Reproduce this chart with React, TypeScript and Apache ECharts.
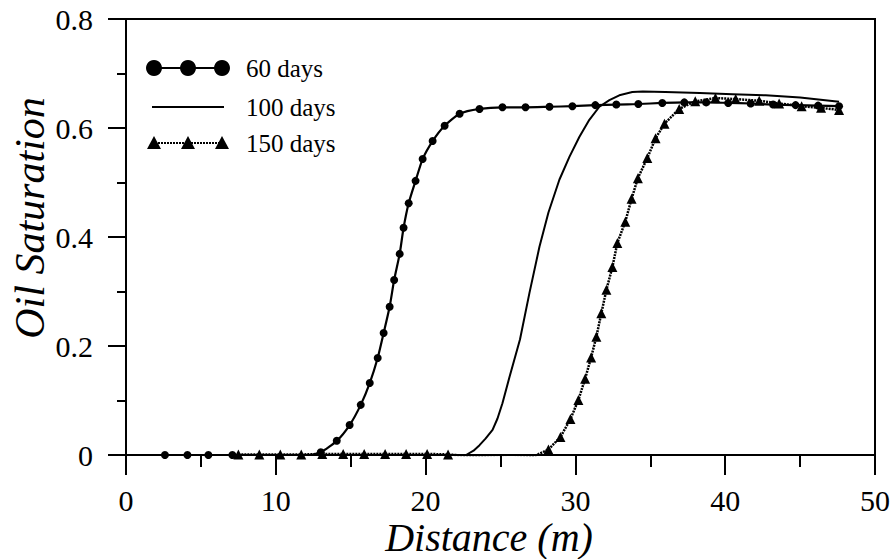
import React, { useEffect, useRef } from "react";
import * as echarts from "echarts";

const FONT = "'Liberation Serif', 'Times New Roman', serif";

const seriesNames = ["60 days", "100 days", "150 days"];

const x60 = [2.6, 4.1, 5.5, 7.1, 8.6, 10.1, 11.7, 13.0, 14.07, 14.93, 15.67, 16.27, 16.8, 17.2, 17.6, 17.9, 18.27, 18.53, 18.87, 19.33, 19.8, 20.47, 21.27, 22.27, 23.6, 25.13, 26.67, 28.27, 29.8, 31.33, 32.73, 34.2, 35.8, 37.27, 38.73, 40.2, 41.7, 43.2, 44.7, 46.2, 47.6];
const y60 = [0.0, 0.0, 0.0, 0.0, -0.002, -0.003, -0.003, 0.005, 0.026, 0.055, 0.092, 0.132, 0.178, 0.224, 0.272, 0.321, 0.369, 0.417, 0.462, 0.503, 0.543, 0.576, 0.604, 0.626, 0.635, 0.638, 0.638, 0.639, 0.64, 0.642, 0.643, 0.644, 0.646, 0.647, 0.647, 0.646, 0.645, 0.643, 0.642, 0.641, 0.64];

const x100 = [2.5, 10, 15, 20, 22.0, 22.7, 23.2, 23.6, 24.0, 24.47, 24.8, 25.13, 25.6, 26.3, 26.93, 27.6, 28.2, 28.93, 29.6, 30.27, 30.93, 31.6, 32.27, 32.93, 33.8, 34.5, 36.0, 38.3, 40.5, 42.7, 45.0, 47.6];
const y100 = [0.0, 0.0, 0.0, -0.002, -0.003, 0.0, 0.008, 0.018, 0.03, 0.046, 0.067, 0.095, 0.143, 0.212, 0.297, 0.382, 0.445, 0.505, 0.547, 0.584, 0.615, 0.639, 0.651, 0.66, 0.666, 0.667, 0.666, 0.664, 0.662, 0.66, 0.656, 0.648];

const x150 = [7.5, 8.9, 10.3, 11.7, 13.1, 14.5, 15.9, 17.3, 18.7, 20.1, 21.5, 22.9, 24.3, 25.8, 27.1, 28.2, 29.0, 29.67, 30.2, 30.65, 31.05, 31.4, 31.73, 32.07, 32.47, 32.8, 33.33, 33.75, 34.17, 34.8, 35.35, 35.95, 36.93, 38.0, 39.35, 40.7, 42.27, 43.6, 45.1, 46.4, 47.6];
const y150 = [0.001, 0.001, 0.001, 0.001, 0.002, 0.002, 0.002, 0.002, 0.002, 0.002, 0.001, -0.002, -0.005, -0.006, -0.004, 0.01, 0.033, 0.066, 0.101, 0.14, 0.179, 0.217, 0.26, 0.303, 0.345, 0.389, 0.428, 0.47, 0.508, 0.545, 0.581, 0.608, 0.635, 0.649, 0.655, 0.653, 0.65, 0.645, 0.64, 0.637, 0.633];

const xTicks = { min: 0, max: 50, interval: 10 };
const yTicks = { min: 0, max: 0.8, interval: 0.2 };

const pairs = (xs: number[], ys: number[]) => xs.map((x, i) => [x, ys[i]]);

export default function App() {
  const ref = useRef<HTMLDivElement>(null);
  useEffect(() => {
    if (!ref.current) return;
    const chart = echarts.init(ref.current, null, { renderer: "svg" });
    const black = "#000";
    const axisCommon = {
      axisLine: { show: true, lineStyle: { color: black, width: 2 } },
      splitLine: { show: false },
    };
    const legendRows = [
      { y: 68, kind: "circle" },
      { y: 107, kind: "line" },
      { y: 143, kind: "triangle" },
    ];
    const legendGraphics: any[] = [];
    legendRows.forEach((r, i) => {
      legendGraphics.push({
        type: "line",
        shape: { x1: 152, y1: r.y, x2: 224, y2: r.y },
        style: {
          stroke: black,
          lineWidth: 2,
          lineDash: r.kind === "triangle" ? [2, 1] : null,
        },
      });
      [154, 188, 222].forEach((cx) => {
        if (r.kind === "circle") {
          legendGraphics.push({ type: "circle", shape: { cx, cy: r.y, r: 8 }, style: { fill: black } });
        } else if (r.kind === "triangle") {
          legendGraphics.push({
            type: "polygon",
            shape: { points: [[cx - 7, r.y + 6], [cx + 7, r.y + 6], [cx, r.y - 7]] },
            style: { fill: black },
          });
        }
      });
      legendGraphics.push({
        type: "text",
        x: 246,
        y: r.y,
        style: {
          text: seriesNames[i],
          font: `25px ${FONT}`,
          fill: black,
          align: "left",
          verticalAlign: "middle",
        },
      });
    });

    chart.setOption({
      animation: false,
      backgroundColor: "#fff",
      grid: { left: 126, right: 16, top: 19, bottom: 104, show: true, borderColor: black, borderWidth: 2 },
      xAxis: {
        type: "value",
        ...xTicks,
        ...axisCommon,
        axisTick: { show: true, length: 20, lineStyle: { color: black, width: 2 } },
        minorTick: { show: true, splitNumber: 2, length: 12, lineStyle: { color: black, width: 2 } },
        axisLabel: { fontSize: 30, lineHeight: 30, fontFamily: FONT, color: black, margin: 30 },
      },
      yAxis: {
        type: "value",
        ...yTicks,
        ...axisCommon,
        axisTick: { show: true, length: 18, lineStyle: { color: black, width: 2 } },
        minorTick: { show: true, splitNumber: 2, length: 9, lineStyle: { color: black, width: 2 } },
        axisLabel: {
          fontSize: 30,
          fontFamily: FONT,
          color: black,
          margin: 33,
          formatter: (v: number) => (v === 0 ? "0" : v.toFixed(1)),
        },
      },
      series: [
        {
          name: seriesNames[2],
          type: "line",
          data: pairs(x150, y150),
          symbol: "triangle",
          symbolSize: 10,
          lineStyle: { color: black, width: 2.5, type: [2, 1] },
          itemStyle: { color: black },
          z: 2,
        },
        {
          name: seriesNames[1],
          type: "line",
          data: pairs(x100, y100),
          showSymbol: false,
          smooth: false,
          lineStyle: { color: black, width: 2 },
          itemStyle: { color: black },
          z: 3,
        },
        {
          name: seriesNames[0],
          type: "line",
          data: pairs(x60, y60),
          symbol: "circle",
          symbolSize: 8,
          smooth: 0.2,
          lineStyle: { color: black, width: 2.2 },
          itemStyle: { color: black },
          z: 4,
        },
      ],
      graphic: [
        ...legendGraphics,
        {
          type: "text",
          x: 489,
          y: 537,
          style: {
            text: "Distance (m)",
            font: `italic 40px ${FONT}`,
            lineHeight: 30,
            fill: black,
            align: "center",
            verticalAlign: "middle",
          },
        },
        {
          type: "text",
          x: 30,
          y: 218,
          rotation: Math.PI / 2,
          style: {
            text: "Oil Saturation",
            font: `italic 42px ${FONT}`,
            fill: black,
            align: "center",
            verticalAlign: "middle",
          },
        },
      ],
    });
    return () => chart.dispose();
  }, []);
  return <div ref={ref} style={{ position: "fixed", left: 0, top: 0, width: 893, height: 559 }} />;
}
